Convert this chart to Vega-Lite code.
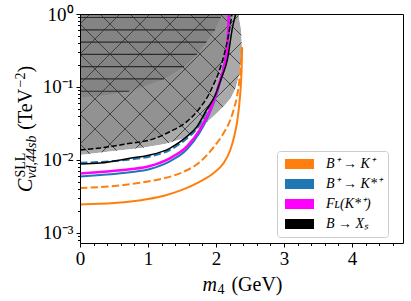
{
"$schema": "https://vega.github.io/schema/vega-lite/v6.json",
"width": 323, "height": 229,
"autosize": "none",
"padding": {"left": 80, "top": 14, "right": 8, "bottom": 58},
"background": "white",
"config": {
  "view": {"stroke": null},
  "axis": {"grid": false, "labelFont": "Liberation Serif", "titleFont": "Liberation Serif", "labelFontSize": 19, "titleFontSize": 20, "titleFontWeight": "normal", "labelColor": "black", "titleColor": "black", "tickColor": "black", "domainColor": "black", "tickWidth": 1, "domainWidth": 1}
},
"datasets": {
  "curves": [
    {"s":"OS","p":"B⁺ → K⁺","m":0,"c":0.00246},{"s":"OS","p":"B⁺ → K⁺","m":0.5,"c":0.00257},{"s":"OS","p":"B⁺ → K⁺","m":1.0,"c":0.00292},{"s":"OS","p":"B⁺ → K⁺","m":1.25,"c":0.00327},{"s":"OS","p":"B⁺ → K⁺","m":1.5,"c":0.00389},{"s":"OS","p":"B⁺ → K⁺","m":1.765,"c":0.00505},{"s":"OS","p":"B⁺ → K⁺","m":1.96,"c":0.00658},{"s":"OS","p":"B⁺ → K⁺","m":2.11,"c":0.00901},{"s":"OS","p":"B⁺ → K⁺","m":2.21,"c":0.0137},{"s":"OS","p":"B⁺ → K⁺","m":2.27,"c":0.0215},{"s":"OS","p":"B⁺ → K⁺","m":2.31,"c":0.033},{"s":"OS","p":"B⁺ → K⁺","m":2.34,"c":0.055},{"s":"OS","p":"B⁺ → K⁺","m":2.36,"c":0.09},{"s":"OS","p":"B⁺ → K⁺","m":2.375,"c":0.16},{"s":"OS","p":"B⁺ → K⁺","m":2.385,"c":0.342},
    {"s":"OD","p":"B⁺ → K⁺","m":0,"c":0.00413},{"s":"OD","p":"B⁺ → K⁺","m":0.5,"c":0.0044},{"s":"OD","p":"B⁺ → K⁺","m":1.0,"c":0.00507},{"s":"OD","p":"B⁺ → K⁺","m":1.25,"c":0.00565},{"s":"OD","p":"B⁺ → K⁺","m":1.5,"c":0.00675},{"s":"OD","p":"B⁺ → K⁺","m":1.765,"c":0.0094},{"s":"OD","p":"B⁺ → K⁺","m":1.96,"c":0.0148},{"s":"OD","p":"B⁺ → K⁺","m":2.11,"c":0.0232},{"s":"OD","p":"B⁺ → K⁺","m":2.21,"c":0.0353},{"s":"OD","p":"B⁺ → K⁺","m":2.27,"c":0.0525},{"s":"OD","p":"B⁺ → K⁺","m":2.31,"c":0.075},{"s":"OD","p":"B⁺ → K⁺","m":2.34,"c":0.115},{"s":"OD","p":"B⁺ → K⁺","m":2.36,"c":0.175},{"s":"OD","p":"B⁺ → K⁺","m":2.372,"c":0.25},{"s":"OD","p":"B⁺ → K⁺","m":2.38,"c":0.353},
    {"s":"BS","p":"B⁺ → K*⁺","m":0,"c":0.00594},{"s":"BS","p":"B⁺ → K*⁺","m":0.3,"c":0.00623},{"s":"BS","p":"B⁺ → K*⁺","m":0.735,"c":0.00679},{"s":"BS","p":"B⁺ → K*⁺","m":1.03,"c":0.00753},{"s":"BS","p":"B⁺ → K*⁺","m":1.32,"c":0.0096},{"s":"BS","p":"B⁺ → K*⁺","m":1.57,"c":0.0139},{"s":"BS","p":"B⁺ → K*⁺","m":1.76,"c":0.0238},{"s":"BS","p":"B⁺ → K*⁺","m":1.89,"c":0.0407},{"s":"BS","p":"B⁺ → K*⁺","m":1.99,"c":0.0696},{"s":"BS","p":"B⁺ → K*⁺","m":2.06,"c":0.116},{"s":"BS","p":"B⁺ → K*⁺","m":2.11,"c":0.167},{"s":"BS","p":"B⁺ → K*⁺","m":2.16,"c":0.29},{"s":"BS","p":"B⁺ → K*⁺","m":2.18,"c":0.49},{"s":"BS","p":"B⁺ → K*⁺","m":2.19,"c":0.74},{"s":"BS","p":"B⁺ → K*⁺","m":2.195,"c":1.0},
    {"s":"BD","p":"B⁺ → K*⁺","m":0,"c":0.00918},{"s":"BD","p":"B⁺ → K*⁺","m":0.3,"c":0.0094},{"s":"BD","p":"B⁺ → K*⁺","m":0.735,"c":0.01016},{"s":"BD","p":"B⁺ → K*⁺","m":1.03,"c":0.01117},{"s":"BD","p":"B⁺ → K*⁺","m":1.32,"c":0.0137},{"s":"BD","p":"B⁺ → K*⁺","m":1.57,"c":0.0197},{"s":"BD","p":"B⁺ → K*⁺","m":1.72,"c":0.027},{"s":"BD","p":"B⁺ → K*⁺","m":1.86,"c":0.0455},{"s":"BD","p":"B⁺ → K*⁺","m":1.99,"c":0.0777},{"s":"BD","p":"B⁺ → K*⁺","m":2.07,"c":0.133},{"s":"BD","p":"B⁺ → K*⁺","m":2.13,"c":0.234},{"s":"BD","p":"B⁺ → K*⁺","m":2.18,"c":0.469},{"s":"BD","p":"B⁺ → K*⁺","m":2.21,"c":1.0},
    {"s":"M","p":"Fʟ(K*⁺)","m":0,"c":0.00653},{"s":"M","p":"Fʟ(K*⁺)","m":0.3,"c":0.00685},{"s":"M","p":"Fʟ(K*⁺)","m":0.735,"c":0.00746},{"s":"M","p":"Fʟ(K*⁺)","m":1.03,"c":0.00828},{"s":"M","p":"Fʟ(K*⁺)","m":1.32,"c":0.01055},{"s":"M","p":"Fʟ(K*⁺)","m":1.57,"c":0.0152},{"s":"M","p":"Fʟ(K*⁺)","m":1.76,"c":0.0258},{"s":"M","p":"Fʟ(K*⁺)","m":1.89,"c":0.0436},{"s":"M","p":"Fʟ(K*⁺)","m":1.99,"c":0.0736},{"s":"M","p":"Fʟ(K*⁺)","m":2.06,"c":0.122},{"s":"M","p":"Fʟ(K*⁺)","m":2.11,"c":0.175},{"s":"M","p":"Fʟ(K*⁺)","m":2.155,"c":0.30},{"s":"M","p":"Fʟ(K*⁺)","m":2.175,"c":0.50},{"s":"M","p":"Fʟ(K*⁺)","m":2.184,"c":0.75},{"s":"M","p":"Fʟ(K*⁺)","m":2.188,"c":1.0},
    {"s":"KS","p":"B → Xₛ","m":0,"c":0.00881},{"s":"KS","p":"B → Xₛ","m":0.3,"c":0.0091},{"s":"KS","p":"B → Xₛ","m":0.735,"c":0.01055},{"s":"KS","p":"B → Xₛ","m":1.03,"c":0.0117},{"s":"KS","p":"B → Xₛ","m":1.32,"c":0.01446},{"s":"KS","p":"B → Xₛ","m":1.57,"c":0.0209},{"s":"KS","p":"B → Xₛ","m":1.72,"c":0.0286},{"s":"KS","p":"B → Xₛ","m":1.86,"c":0.0484},{"s":"KS","p":"B → Xₛ","m":1.99,"c":0.0777},{"s":"KS","p":"B → Xₛ","m":2.08,"c":0.133},{"s":"KS","p":"B → Xₛ","m":2.166,"c":0.234},{"s":"KS","p":"B → Xₛ","m":2.245,"c":0.67},{"s":"KS","p":"B → Xₛ","m":2.29,"c":1.0},
    {"s":"KD","p":"B → Xₛ","m":0,"c":0.0137},{"s":"KD","p":"B → Xₛ","m":0.3,"c":0.0146},{"s":"KD","p":"B → Xₛ","m":0.735,"c":0.0169},{"s":"KD","p":"B → Xₛ","m":1.03,"c":0.0188},{"s":"KD","p":"B → Xₛ","m":1.32,"c":0.0244},{"s":"KD","p":"B → Xₛ","m":1.57,"c":0.0335},{"s":"KD","p":"B → Xₛ","m":1.76,"c":0.0511},{"s":"KD","p":"B → Xₛ","m":1.89,"c":0.0777},{"s":"KD","p":"B → Xₛ","m":1.96,"c":0.106},{"s":"KD","p":"B → Xₛ","m":2.03,"c":0.150},{"s":"KD","p":"B → Xₛ","m":2.107,"c":0.25},{"s":"KD","p":"B → Xₛ","m":2.16,"c":0.40},{"s":"KD","p":"B → Xₛ","m":2.206,"c":0.67},{"s":"KD","p":"B → Xₛ","m":2.235,"c":1.0}
  ],
  "band": [
    {"c":0.0007,"m":0},{"c":0.0117,"m":0},{"c":0.01328,"m":0.5},{"c":0.0146,"m":0.9},{"c":0.01657,"m":1.25},{"c":0.0194,"m":1.5},{"c":0.02496,"m":1.7},{"c":0.03213,"m":1.85},{"c":0.04266,"m":2.0},{"c":0.05495,"m":2.12},{"c":0.07067,"m":2.22},{"c":0.09687,"m":2.29},{"c":0.146,"m":2.34},{"c":0.2344,"m":2.37},{"c":0.376,"m":2.38},{"c":0.6035,"m":2.37},{"c":1.0,"m":2.33}
  ],
  "dark": [
    {"c":0.072,"m":0},{"c":0.077,"m":0.35},{"c":0.0874,"m":0.725},{"c":0.1288,"m":1.235},{"c":0.19,"m":1.53},{"c":0.28,"m":1.72},{"c":0.412,"m":1.86},{"c":0.6075,"m":1.985},{"c":0.895,"m":2.07},{"c":1.0,"m":2.09}
  ],
  "hatch": [
    {"c":0.895,"m":2.07},{"c":0.6075,"m":1.985},{"c":0.412,"m":1.86},{"c":0.28,"m":1.72},{"c":0.19,"m":1.53},{"c":0.1288,"m":1.235},{"c":0.0874,"m":0.725}
  ],
  "diag": [
    {"m":0,"c":0.7295,"m2":0.147,"c2":1},{"m":0,"c":0.2831,"m2":0.588,"c2":1},{"m":0,"c":0.1099,"m2":1.029,"c2":1},{"m":0,"c":0.04266,"m2":1.471,"c2":1},{"m":0,"c":0.01657,"m2":1.912,"c2":1},{"m":0,"c":0.006431,"m2":2.353,"c2":1},{"m":0,"c":0.002496,"m2":2.794,"c2":1},{"m":0,"c":0.0009686,"m2":3.235,"c2":1},{"m":0,"c":0.0003759,"m2":3.676,"c2":1},
    {"m":2.059,"c":1,"m2":2.5,"c2":0.3882},{"m":1.618,"c":1,"m2":2.5,"c2":0.1507},{"m":1.176,"c":1,"m2":2.5,"c2":0.0585},{"m":0.735,"c":1,"m2":2.5,"c2":0.02271},{"m":0.294,"c":1,"m2":2.5,"c2":0.008816},{"m":0,"c":0.7295,"m2":2.5,"c2":0.003422},{"m":0,"c":0.2831,"m2":2.5,"c2":0.001328},{"m":0,"c":0.1099,"m2":2.5,"c2":0.0005153},{"m":0,"c":0.04266,"m2":2.5,"c2":0.0002},{"m":0,"c":0.01657,"m2":2.5,"c2":0.00007762}
  ]
},
"resolve": {"axis": {"x": "independent", "y": "independent"}},
"layer": [
  {"data": {"name": "band"},
   "mark": {"type": "area", "orient": "horizontal", "color": "#aaaaaa", "clip": true},
   "encoding": {
     "y": {"field": "c", "type": "quantitative", "scale": {"type": "log", "domain": [0.000729, 1], "nice": false},
       "axis": {"orient": "left", "values": [0.001, 0.01, 0.1, 1], "labelExpr": "datum.value >= 0.5 ? '10⁰' : datum.value >= 0.05 ? '10⁻¹' : datum.value >= 0.005 ? '10⁻²' : '10⁻³'", "tickSize": 4, "labelPadding": 3, "labelOverlap": false, "labelBound": false, "labelFlush": false, "domain": true, "zindex": 1,
         "title": "C", "titleFontStyle": "italic", "titleFontSize": 20, "titleAngle": 270, "titleAlign": "left", "titleBaseline": "alphabetic", "titleX": -49, "titleY": 177.5}},
     "x": {"field": "m", "type": "quantitative", "stack": null, "scale": {"domain": [0, 4.75], "nice": false, "zero": false},
       "axis": {"orient": "bottom", "values": [0, 1, 2, 3, 4], "format": "d", "tickSize": 4, "labelPadding": 2, "labelFlush": false, "labelOverlap": false, "domain": true, "zindex": 1,
         "title": "m", "titleFontStyle": "italic", "titleFontSize": 20, "titleAngle": 0, "titleAlign": "left", "titleBaseline": "alphabetic", "titleX": 122, "titleY": 47}},
     "x2": {"datum": 0}
   }},
  {"data": {"name": "curves"},
   "transform": [{"filter": "datum.s == 'KD'"}],
   "mark": {"type": "area", "orient": "horizontal", "color": "#929292", "clip": true},
   "encoding": {
     "y": {"field": "c", "type": "quantitative", "scale": {"type": "log", "domain": [0.000729, 1], "nice": false},
       "axis": {"orient": "left", "domain": false, "ticks": false, "labels": false, "title": "νd,44sb", "titleFontStyle": "italic", "titleFontSize": 14, "titleAngle": 270, "titleAlign": "left", "titleBaseline": "alphabetic", "titleX": -45, "titleY": 164.2}},
     "x": {"field": "m", "type": "quantitative", "stack": null, "scale": {"domain": [0, 4.75], "nice": false, "zero": false},
       "axis": {"orient": "bottom", "domain": false, "ticks": false, "labels": false, "title": "4", "titleFontSize": 14, "titleAngle": 0, "titleAlign": "left", "titleBaseline": "alphabetic", "titleX": 137, "titleY": 50.5}},
     "x2": {"datum": 0}
   }},
  {"data": {"name": "dark"},
   "mark": {"type": "area", "orient": "horizontal", "color": "#848484", "clip": true},
   "encoding": {
     "y": {"field": "c", "type": "quantitative", "scale": {"type": "log", "domain": [0.000729, 1], "nice": false},
       "axis": {"orient": "left", "domain": false, "ticks": false, "labels": false, "title": "SLL", "titleFontSize": 14, "titleAngle": 270, "titleAlign": "left", "titleBaseline": "alphabetic", "titleX": -56, "titleY": 163}},
     "x": {"field": "m", "type": "quantitative", "stack": null, "scale": {"domain": [0, 4.75], "nice": false, "zero": false},
       "axis": {"orient": "bottom", "domain": false, "ticks": false, "labels": false, "title": "(GeV)", "titleFontSize": 20, "titleAngle": 0, "titleAlign": "right", "titleBaseline": "alphabetic", "titleX": 202, "titleY": 47}},
     "x2": {"datum": 0}
   }},
  {"data": {"name": "diag"},
   "mark": {"type": "rule", "color": "#3a3a3a", "strokeWidth": 0.9, "clip": true},
   "encoding": {
     "y": {"field": "c", "type": "quantitative", "scale": {"type": "log", "domain": [0.000729, 1], "nice": false},
       "axis": {"orient": "left", "domain": false, "ticks": false, "labels": false, "title": "(TeV", "titleFontSize": 20, "titleAngle": 270, "titleAlign": "left", "titleBaseline": "alphabetic", "titleX": -49, "titleY": 115.2}},
     "y2": {"field": "c2"},
     "x": {"field": "m", "type": "quantitative", "scale": {"domain": [0, 4.75], "nice": false, "zero": false},
       "axis": {"orient": "top", "domain": true, "ticks": false, "labels": false, "title": null, "zindex": 1}},
     "x2": {"field": "m2"}
   }},
  {"data": {"name": "band"},
   "mark": {"type": "area", "orient": "horizontal", "color": "white", "clip": true},
   "encoding": {
     "y": {"field": "c", "type": "quantitative", "scale": {"type": "log", "domain": [0.000729, 1], "nice": false},
       "axis": {"orient": "left", "domain": false, "ticks": false, "labels": false, "title": "−2", "titleFontSize": 14, "titleAngle": 270, "titleAlign": "left", "titleBaseline": "alphabetic", "titleX": -56, "titleY": 73}},
     "x": {"field": "m", "type": "quantitative", "stack": null, "scale": {"domain": [0, 4.75], "nice": false, "zero": false}, "axis": null},
     "x2": {"datum": 4.9}
   }},
  {"data": {"name": "hatch"},
   "mark": {"type": "rule", "color": "#2b2b2b", "strokeWidth": 1.2, "clip": true},
   "encoding": {
     "y": {"field": "c", "type": "quantitative", "scale": {"type": "log", "domain": [0.000729, 1], "nice": false},
       "axis": {"orient": "left", "domain": false, "ticks": false, "labels": false, "title": ")", "titleFontSize": 20, "titleAngle": 270, "titleAlign": "left", "titleBaseline": "alphabetic", "titleX": -49, "titleY": 58.1}},
     "x": {"field": "m", "type": "quantitative", "scale": {"domain": [0, 4.75], "nice": false, "zero": false}, "axis": null},
     "x2": {"datum": 0}
   }},
  {"data": {"name": "curves"},
   "transform": [{"filter": "datum.s == 'OS'"}],
   "mark": {"type": "line", "strokeWidth": 2, "interpolate": "monotone", "clip": true},
   "encoding": {
     "y": {"field": "c", "type": "quantitative", "scale": {"type": "log", "domain": [0.000729, 1], "nice": false},
       "axis": {"orient": "left", "values": [0.0008,0.0009,0.002,0.003,0.004,0.005,0.006,0.007,0.008,0.009,0.02,0.03,0.04,0.05,0.06,0.07,0.08,0.09,0.2,0.3,0.4,0.5,0.6,0.7,0.8,0.9], "tickSize": 2.5, "labels": false, "domain": false, "title": null, "zindex": 1}},
     "x": {"field": "m", "type": "quantitative", "scale": {"domain": [0, 4.75], "nice": false, "zero": false},
       "axis": {"orient": "bottom", "values": [0.2,0.4,0.6,0.8,1.2,1.4,1.6,1.8,2.2,2.4,2.6,2.8,3.2,3.4,3.6,3.8,4.2,4.4,4.6], "tickSize": 2.5, "labels": false, "domain": false, "title": null, "zindex": 1}},
     "color": {"field": "p", "type": "nominal",
       "scale": {"domain": ["B⁺ → K⁺", "B⁺ → K*⁺", "Fʟ(K*⁺)", "B → Xₛ"], "range": ["#ff7f0e", "#1f77b4", "#ff00ff", "#000000"]},
       "legend": {"title": null, "orient": "none", "legendX": 197, "legendY": 137, "symbolType": "M-2.9,-1H2.9V1H-2.9Z", "symbolSize": 100, "symbolStrokeWidth": 0, "symbolOffset": 9.5, "labelOffset": 19.5, "rowPadding": 6, "padding": 6, "strokeColor": "#cccccc", "fillColor": "white", "cornerRadius": 3, "labelFont": "Liberation Serif", "labelFontSize": 14, "labelFontStyle": "italic", "labelColor": "black",
         "encode": {"symbols": {"update": {"fill": {"scale": "color", "field": "value"}, "opacity": {"value": 1}}}}}}
   }},
  {"data": {"name": "curves"},
   "transform": [{"filter": "datum.s == 'OD'"}],
   "mark": {"type": "line", "strokeWidth": 2, "strokeDash": [7.4, 3.2], "interpolate": "monotone", "clip": true},
   "encoding": {
     "y": {"field": "c", "type": "quantitative", "scale": {"type": "log", "domain": [0.000729, 1], "nice": false},
       "axis": {"orient": "right", "domain": true, "ticks": false, "labels": false, "title": null, "zindex": 1}},
     "x": {"field": "m", "type": "quantitative", "scale": {"domain": [0, 4.75], "nice": false, "zero": false}, "axis": null},
     "color": {"field": "p", "type": "nominal", "legend": null}
   }},
  {"data": {"name": "curves"},
   "transform": [{"filter": "datum.s == 'BS'"}],
   "mark": {"type": "line", "strokeWidth": 2, "interpolate": "monotone", "clip": true},
   "encoding": {
     "y": {"field": "c", "type": "quantitative", "scale": {"type": "log", "domain": [0.000729, 1], "nice": false}, "axis": null},
     "x": {"field": "m", "type": "quantitative", "scale": {"domain": [0, 4.75], "nice": false, "zero": false}, "axis": null},
     "color": {"field": "p", "type": "nominal", "legend": null}
   }},
  {"data": {"name": "curves"},
   "transform": [{"filter": "datum.s == 'BD'"}],
   "mark": {"type": "line", "strokeWidth": 2, "strokeDash": [7.4, 3.2], "interpolate": "monotone", "clip": true},
   "encoding": {
     "y": {"field": "c", "type": "quantitative", "scale": {"type": "log", "domain": [0.000729, 1], "nice": false}, "axis": null},
     "x": {"field": "m", "type": "quantitative", "scale": {"domain": [0, 4.75], "nice": false, "zero": false}, "axis": null},
     "color": {"field": "p", "type": "nominal", "legend": null}
   }},
  {"data": {"name": "curves"},
   "transform": [{"filter": "datum.s == 'M'"}],
   "mark": {"type": "line", "strokeWidth": 2.5, "interpolate": "monotone", "clip": true},
   "encoding": {
     "y": {"field": "c", "type": "quantitative", "scale": {"type": "log", "domain": [0.000729, 1], "nice": false}, "axis": null},
     "x": {"field": "m", "type": "quantitative", "scale": {"domain": [0, 4.75], "nice": false, "zero": false}, "axis": null},
     "color": {"field": "p", "type": "nominal", "legend": null}
   }},
  {"data": {"name": "curves"},
   "transform": [{"filter": "datum.s == 'KS'"}],
   "mark": {"type": "line", "strokeWidth": 1.5, "interpolate": "monotone", "clip": true},
   "encoding": {
     "y": {"field": "c", "type": "quantitative", "scale": {"type": "log", "domain": [0.000729, 1], "nice": false}, "axis": null},
     "x": {"field": "m", "type": "quantitative", "scale": {"domain": [0, 4.75], "nice": false, "zero": false}, "axis": null},
     "color": {"field": "p", "type": "nominal", "legend": null}
   }},
  {"data": {"name": "curves"},
   "transform": [{"filter": "datum.s == 'KD'"}],
   "mark": {"type": "line", "strokeWidth": 1.5, "strokeDash": [5.5, 2.4], "interpolate": "monotone", "clip": true},
   "encoding": {
     "y": {"field": "c", "type": "quantitative", "scale": {"type": "log", "domain": [0.000729, 1], "nice": false}, "axis": null},
     "x": {"field": "m", "type": "quantitative", "scale": {"domain": [0, 4.75], "nice": false, "zero": false}, "axis": null},
     "color": {"field": "p", "type": "nominal", "legend": null}
   }}
]
}
